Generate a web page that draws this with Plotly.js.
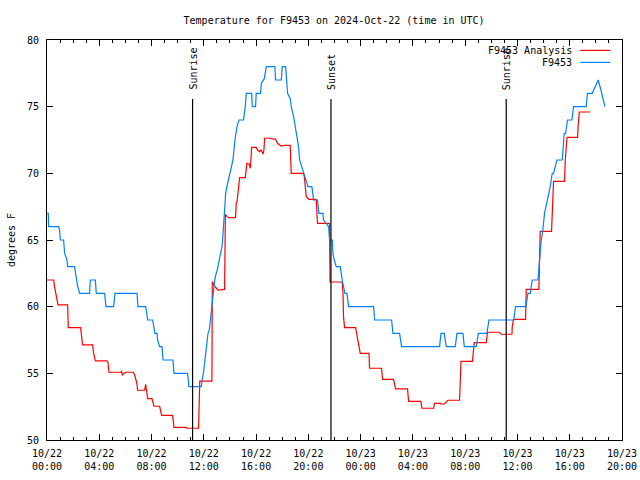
<!DOCTYPE html>
<html>
<head>
<meta charset="utf-8">
<script src="https://cdn.plot.ly/plotly-3.0.1.min.js"></script>
<style>html,body{margin:0;padding:0;background:#fff;}#chart{width:640px;height:480px;}</style>
</head>
<body>
<div id="chart"></div>
<script>
// Hours since 2024-10-22 00:00 UTC, and temperatures (°F)
const obsHours = [0,0.1,0.12,0.89,0.96,1.02,1.27,1.35,1.53,1.58,2.11,2.19,2.24,2.34,2.5,3.26,3.31,3.7,3.77,4.41,4.51,5.1,5.2,6.89,6.96,7.55,7.6,7.7,8.08,8.16,8.26,8.42,8.46,8.62,8.8,8.88,9.64,9.72,10.76,10.86,11.81,11.86,11.9,11.98,12.06,12.11,12.17,12.24,12.32,12.42,12.47,12.55,12.62,12.7,12.78,12.88,13.03,13.18,13.41,13.54,13.59,13.67,13.77,14.02,14.23,14.38,14.54,14.69,15.04,15.17,15.25,15.66,15.71,15.96,16.01,16.34,16.4,16.63,16.78,17.44,17.49,17.93,18.0,18.26,18.36,18.41,18.61,18.69,18.87,19.0,19.17,19.25,19.33,19.63,19.79,19.97,20.27,20.4,20.7,20.81,21.12,21.16,21.55,21.62,21.83,21.88,21.98,22.13,22.44,22.49,22.59,22.69,22.8,22.95,23.0,23.08,24.99,25.07,26.37,26.47,26.98,27.05,27.13,30.04,30.15,30.4,30.55,31.24,31.37,31.83,31.93,32.85,32.9,33.0,33.66,33.74,33.82,35.72,35.85,36.65,36.8,36.98,37.13,37.57,37.64,37.74,37.82,37.92,38.0,38.07,38.18,38.3,38.41,38.51,38.58,38.66,38.76,38.91,39.02,39.43,39.48,39.58,39.68,39.83,40.17,40.29,41.26,41.36,41.72,41.95,42.18,42.39,42.54,42.69];
const obsTemps = [67,67,66,66,65.75,65,65,64,63.5,63,63,62.5,62,61.55,61,61,62,62,61,61,60,60,61,61,60,60,59.7,59,59,58.5,58,58,57.5,57,57,56,56,55,55,54,54,54.5,54.6,55.1,55.75,56.25,56.75,57.5,58,58.25,58.75,59,59.75,60.75,61.5,62.25,62.75,63.5,64.6,66.5,67.5,68.5,69,70,71,72.5,73.5,74,74,75,76,76,75,75,76,76,76.75,77.1,78,78,77,77,78,78,77,76,75.6,75,74.25,73.5,72.5,72,71,70,69.5,69,69,68,68,67,67,66.5,66,65,65,64,63.5,63,63,62.5,62,61.5,61,61,60.5,60,60,59,59,58,58,57.5,57,57,58,58,57,57,58,58,57,57,57.5,58,58,58.5,59,59,60,60,61,61,62,62,63,64,65,65.55,66.5,67,67.5,68,68.5,69,69.5,70,70,70.5,71,71,72,73,73,74,74,75,75,76,76,76.5,77,76.25,75.6,75];

const anaHours = [0,0.51,0.58,0.66,0.76,0.84,1.58,1.63,2.57,2.62,2.72,3.49,3.57,3.7,4.59,4.67,4.74,5.69,5.7,5.76,5.86,6.02,6.58,6.68,6.78,6.89,6.93,7.47,7.55,7.6,7.65,7.7,8.03,8.11,8.19,8.62,8.67,8.77,9.61,9.72,10.66,10.71,11.6,11.64,11.69,12.62,12.65,12.78,13.08,13.54,13.59,13.65,13.77,13.9,14.43,14.48,14.54,14.61,14.69,14.74,15.17,15.23,15.3,15.46,15.56,15.61,15.66,16.01,16.11,16.27,16.37,16.53,16.6,16.65,17.03,17.49,17.64,17.8,17.93,18.16,18.61,18.69,19.63,19.69,19.76,19.84,20.05,20.6,20.7,21.62,21.66,22.59,22.65,22.69,22.77,23.61,23.67,23.77,23.87,23.97,24.64,24.68,25.6,25.68,26.52,26.57,26.67,27.59,27.67,28.61,28.69,29.58,29.66,30.09,30.14,30.4,30.5,30.6,30.68,31.57,31.62,31.68,32.56,32.64,32.69,33.61,33.71,34.63,34.68,34.76,35.58,35.6,35.7,36.62,36.67,37.64,37.69,37.74,38.61,38.66,38.76,39.6,39.66,39.79,40.6,40.65,40.73,41.57];
const anaTemps = [62,62,61.5,61,60.63,60.13,60.13,58.43,58.43,58,57.13,57.13,56.5,55.93,55.93,55.8,55.08,55.08,55.2,54.88,54.95,55.08,55.08,54.95,54.63,54.18,53.73,53.73,54.18,53.73,53.23,53.1,53.1,52.88,52.53,52.53,52.25,51.85,51.85,50.95,50.95,50.88,50.88,52.6,54.42,54.42,61.88,61.6,61.25,61.3,61.3,66.93,66.75,66.68,66.68,67.75,67.88,68.5,69.5,69.68,69.68,70.38,70.75,70.7,70.38,71.13,71.95,71.95,71.75,71.63,71.75,71.45,71.75,72.63,72.63,72.55,72.25,72.13,72.05,72.1,72.1,70,70,69.75,69,68.25,68.05,68.05,66.25,66.25,61.85,61.85,61,59.25,58.43,58.43,58.13,57.5,57,56.5,56.5,55.38,55.38,54.55,54.55,54.25,53.83,53.83,52.9,52.9,52.38,52.38,52.75,52.75,52.7,52.7,52.8,52.93,52.98,52.98,54.43,55.9,55.9,57,57.3,57.3,58.08,58.08,58,57.93,57.93,58.5,59.05,59.05,61.3,61.3,63.5,65.65,65.65,67.5,69.4,69.4,71,72.7,72.7,73.63,74.6,74.6];

const eventHours = [11.14, 21.73, 35.14];
const eventLabels = ["Sunrise", "Sunset", "Sunrise"];
const seriesNames = ["F9453 Analysis", "F9453"];
const seriesColors = ["#ff0000", "#0080ff"];

const t0 = Date.UTC(2024, 9, 22, 0, 0, 0);
function toDate(h) {
  const d = new Date(t0 + Math.round(h * 3600000));
  const p = n => String(n).padStart(2, "0");
  return d.getUTCFullYear() + "-" + p(d.getUTCMonth() + 1) + "-" + p(d.getUTCDate()) + " " +
         p(d.getUTCHours()) + ":" + p(d.getUTCMinutes()) + ":" + p(d.getUTCSeconds());
}

const FONT = "DejaVu Sans Mono, monospace";
const traces = [
  {x: anaHours.map(toDate), y: anaTemps, type: "scatter", mode: "lines", name: seriesNames[0],
   line: {color: seriesColors[0], width: 1.2}, hoverinfo: "skip"},
  {x: obsHours.map(toDate), y: obsTemps, type: "scatter", mode: "lines", name: seriesNames[1],
   line: {color: seriesColors[1], width: 1.2}, hoverinfo: "skip"}
];

const shapes = [];
const annotations = [];
eventHours.forEach((h, i) => {
  shapes.push({type: "line", xref: "x", yref: "paper", x0: toDate(h), x1: toDate(h), y0: 0, y1: 0.8525,
               line: {color: "black", width: 1.2}});
  annotations.push({xref: "x", yref: "paper", x: toDate(h), y: 0.87, text: eventLabels[i], textangle: -90,
                    showarrow: false, xanchor: "center", yanchor: "bottom",
                    font: {family: FONT, size: 10, color: "black"}});
});
// legend (text right-aligned, sample line to the right)
const legY = [0.974, 0.944];
seriesNames.forEach((n, i) => {
  annotations.push({xref: "paper", yref: "paper", x: 0.917, y: legY[i], text: n, showarrow: false,
                    xanchor: "right", yanchor: "middle", font: {family: FONT, size: 10, color: "black"}});
  shapes.push({type: "line", xref: "paper", yref: "paper", x0: 0.9275, x1: 0.9797, y0: legY[i], y1: legY[i],
               line: {color: seriesColors[i], width: 1.2}});
});

const layout = {
  width: 640, height: 480,
  margin: {l: 47, r: 18, t: 40, b: 40},
  paper_bgcolor: "white", plot_bgcolor: "white",
  showlegend: false,
  font: {family: FONT, size: 10, color: "black"},
  title: {text: "Temperature for F9453 on 2024-Oct-22 (time in UTC)", x: 0.522, xanchor: "center",
          y: 0.958, yanchor: "middle", font: {family: FONT, size: 10, color: "black"}},
  xaxis: {
    type: "date", range: [toDate(0), toDate(44)],
    dtick: 4 * 3600000, tick0: toDate(0), tickformat: "%m/%d<br>%H:%M",
    ticks: "inside", ticklen: 6, tickcolor: "black", tickwidth: 1,
    minor: {dtick: 3600000, ticks: "inside", ticklen: 3, tickcolor: "black", tickwidth: 1},
    showline: true, linecolor: "black", linewidth: 1, mirror: "allticks",
    showgrid: false, zeroline: false, ticklabelstandoff: 4,
    tickfont: {family: FONT, size: 10, color: "black"}
  },
  yaxis: {
    range: [50, 80], dtick: 5, tick0: 50,
    ticks: "inside", ticklen: 6, tickcolor: "black", tickwidth: 1,
    showline: true, linecolor: "black", linewidth: 1, mirror: "allticks",
    showgrid: false, zeroline: false, ticklabelstandoff: 5,
    tickfont: {family: FONT, size: 10, color: "black"},
    title: {text: "degrees F", font: {family: FONT, size: 10, color: "black"}, standoff: 9}
  },
  shapes: shapes,
  annotations: annotations
};

Plotly.newPlot("chart", traces, layout, {staticPlot: true});
</script>
</body>
</html>
